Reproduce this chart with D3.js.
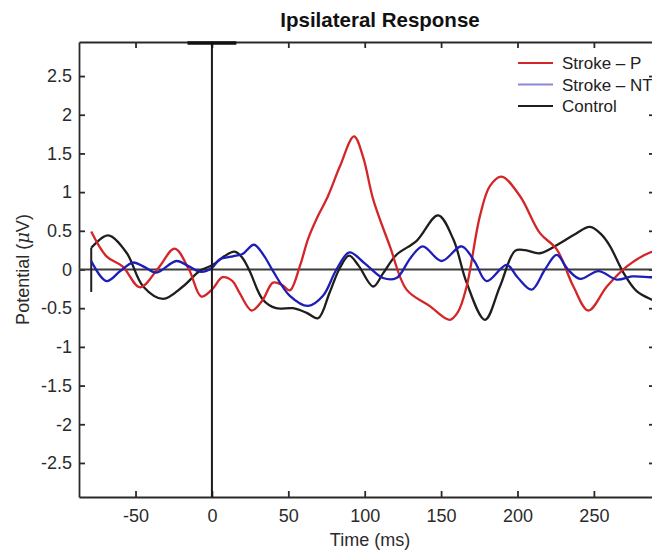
<!DOCTYPE html>
<html>
<head>
<meta charset="utf-8">
<script src="https://cdn.jsdelivr.net/npm/d3@7"></script>
<style>
  body { margin: 0; background: #fff; }
  svg { display: block; font-family: "Liberation Sans", Arial, sans-serif; }
</style>
</head>
<body>
<div id="chart"></div>
<script>
// DATA

// Stroke - P (red)
const strokePTime = [-79, -69, -58.5, -47, -35, -24.4, -15, -7, 0, 7, 13.5, 18, 26, 33, 40, 46, 51, 57.5, 63, 68.4, 76, 83.7, 93, 99, 105.5, 116.5, 127.4, 142.4, 155.5, 161, 166.7, 175.4, 182, 189.6, 201.6, 214.7, 225.7, 236.6, 246.4, 258.5, 271.6, 286.8, 292];
const strokePVals = [0.49, 0.17, 0.04, -0.23, 0.02, 0.27, 0.0, -0.35, -0.26, -0.1, -0.15, -0.3, -0.53, -0.4, -0.17, -0.2, -0.27, 0.04, 0.4, 0.65, 0.95, 1.33, 1.72, 1.45, 0.91, 0.3, -0.26, -0.47, -0.65, -0.55, -0.22, 0.69, 1.08, 1.2, 0.95, 0.47, 0.26, -0.22, -0.53, -0.22, 0.04, 0.22, 0.24];

// Stroke - NT (blue)
const strokeNTime = [-79, -69, -60, -51.7, -44, -36.4, -23.3, -15, -7, 0, 5, 13.8, 20, 27.5, 34, 40, 51, 63, 72.7, 81.5, 90, 100, 112, 120.8, 130, 138, 150.3, 163.4, 172, 179.8, 192.9, 200, 209.3, 218, 225.7, 233, 241, 253, 265, 275, 287, 292];
const strokeNVals = [0.11, -0.15, -0.02, 0.09, 0.03, -0.04, 0.11, 0.04, -0.03, 0.02, 0.13, 0.17, 0.2, 0.32, 0.18, -0.02, -0.34, -0.47, -0.34, 0.0, 0.22, 0.08, -0.11, -0.11, 0.15, 0.3, 0.11, 0.3, 0.1, -0.15, 0.06, -0.1, -0.26, 0.0, 0.19, 0.0, -0.12, -0.02, -0.13, -0.09, -0.1, -0.1];

// Control (black)
const controlTime = [-79, -68, -56, -45, -32, -19, -8, 0.7, 8, 14.9, 20, 24.7, 33.4, 42, 53, 62, 69.5, 77, 83.7, 89.8, 96, 105.5, 112, 120.8, 134, 148, 158, 166.7, 178.7, 188.5, 198.4, 205, 214.7, 227.8, 237, 247.5, 255, 260.6, 269.3, 278, 288, 292];
const controlVals = [0.28, 0.44, 0.22, -0.22, -0.38, -0.22, -0.02, 0.06, 0.17, 0.23, 0.15, -0.02, -0.39, -0.5, -0.5, -0.56, -0.63, -0.3, 0.02, 0.18, 0.05, -0.22, -0.05, 0.19, 0.37, 0.7, 0.39, -0.17, -0.65, -0.22, 0.24, 0.25, 0.21, 0.34, 0.45, 0.55, 0.45, 0.3, -0.04, -0.28, -0.39, -0.42];

// Short vertical bar at the start of the control trace
const startBarTime = -79;
const startBarRange = [0.28, -0.29];
// Stimulus marker on the top edge
const stimulusRange = [-16, 16];

const seriesNames = ["Stroke \u2013 P", "Stroke \u2013 NT", "Control"];
const seriesColors = ["#d42528", "#1d1db8", "#1e1e1e"];
const legendColors = ["#d42528", "#8a8ad8", "#1e1e1e"];

const xDomain = [-87, 290];
const yDomain = [-2.94, 2.94];
const xTicks = [-50, 0, 50, 100, 150, 200, 250];
const yTicks = [-2.5, -2, -1.5, -1, -0.5, 0, 0.5, 1, 1.5, 2, 2.5];

// LAYOUT
const width = 652, height = 552;
const margin = {top: 42, left: 79, bottom: 55};
const plotRight = 655; // right axis sits just past the picture edge

const svg = d3.select("#chart").append("svg")
  .attr("width", width)
  .attr("height", height);

const x = d3.scaleLinear().domain(xDomain).range([margin.left, plotRight]);
const y = d3.scaleLinear().domain(yDomain).range([height - margin.bottom, margin.top]);

svg.append("defs").append("clipPath").attr("id", "plot-clip")
  .append("rect")
  .attr("x", margin.left).attr("y", margin.top)
  .attr("width", plotRight - margin.left)
  .attr("height", y.range()[0] - margin.top);

const axisColor = "#2a2a2a";
const tickLen = 6;

// Axes (ticks point inward, like matlab)
function styleAxis(g) {
  g.select(".domain").attr("stroke", axisColor).attr("stroke-width", 1.8);
  g.selectAll(".tick line").attr("stroke", axisColor).attr("stroke-width", 1.8);
  g.selectAll(".tick text").attr("fill", "#2b2b2b").attr("font-size", 18);
}

svg.append("g")
  .attr("transform", `translate(0,${y.range()[0]})`)
  .call(d3.axisBottom(x).tickValues(xTicks).tickSizeInner(-tickLen).tickSizeOuter(0).tickPadding(12).tickFormat(d => String(d)))
  .call(styleAxis);

svg.append("g")
  .attr("transform", `translate(0,${margin.top})`)
  .call(d3.axisTop(x).tickValues(xTicks).tickSizeInner(-tickLen).tickSizeOuter(0).tickFormat(""))
  .call(styleAxis);

svg.append("g")
  .attr("transform", `translate(${margin.left},0)`)
  .call(d3.axisLeft(y).tickValues(yTicks).tickSizeInner(-tickLen).tickSizeOuter(0).tickPadding(7).tickFormat(d => String(d)))
  .call(styleAxis);

svg.append("g")
  .attr("transform", `translate(${plotRight},0)`)
  .call(d3.axisRight(y).tickValues(yTicks).tickSizeInner(-tickLen).tickSizeOuter(0).tickFormat(""))
  .call(styleAxis);

const plot = svg.append("g").attr("clip-path", "url(#plot-clip)");

// zero line
plot.append("line")
  .attr("x1", x(xDomain[0])).attr("x2", x(xDomain[1]))
  .attr("y1", y(0)).attr("y2", y(0))
  .attr("stroke", "#3c3c3c").attr("stroke-width", 2);

// onset line
svg.append("line")
  .attr("x1", x(0)).attr("x2", x(0))
  .attr("y1", y(yDomain[1])).attr("y2", y(yDomain[0]))
  .attr("stroke", "#1a1a1a").attr("stroke-width", 2);

// stimulus marker
svg.append("line")
  .attr("x1", x(stimulusRange[0])).attr("x2", x(stimulusRange[1]))
  .attr("y1", y(yDomain[1]) + 1).attr("y2", y(yDomain[1]) + 1)
  .attr("stroke", "#111").attr("stroke-width", 3.5);

// start bar
plot.append("line")
  .attr("x1", x(startBarTime)).attr("x2", x(startBarTime))
  .attr("y1", y(startBarRange[0])).attr("y2", y(startBarRange[1]))
  .attr("stroke", "#1e1e1e").attr("stroke-width", 2);

const line = d3.line()
  .x(d => x(d[0]))
  .y(d => y(d[1]))
  .curve(d3.curveCatmullRom.alpha(0.5));

const series = [
  d3.zip(strokePTime, strokePVals),
  d3.zip(strokeNTime, strokeNVals),
  d3.zip(controlTime, controlVals)
];

// draw black first, then red, then blue on top
[2, 0, 1].forEach(i => {
  plot.append("path")
    .datum(series[i])
    .attr("fill", "none")
    .attr("stroke", seriesColors[i])
    .attr("stroke-width", 2.3)
    .attr("stroke-linejoin", "round")
    .attr("d", line);
});

// Title and labels
svg.append("text")
  .attr("x", 380).attr("y", 27)
  .attr("text-anchor", "middle")
  .attr("font-size", 20.5).attr("font-weight", "bold").attr("fill", "#111")
  .text("Ipsilateral Response");

svg.append("text")
  .attr("x", 370).attr("y", 546)
  .attr("text-anchor", "middle")
  .attr("font-size", 18).attr("fill", "#2b2b2b")
  .text("Time (ms)");

const yLabel = svg.append("text")
  .attr("transform", `translate(29,${y(0)}) rotate(-90)`)
  .attr("text-anchor", "middle")
  .attr("font-size", 18).attr("fill", "#2b2b2b");
yLabel.append("tspan").text("Potential (");
yLabel.append("tspan").attr("font-style", "italic").attr("font-family", "'DejaVu Serif', serif").text("\u03bc");
yLabel.append("tspan").text("V)");

// Legend (no box)
const legend = svg.append("g");
seriesNames.forEach((name, i) => {
  const ly = 63 + i * 21.5;
  legend.append("line")
    .attr("x1", 518).attr("x2", 553)
    .attr("y1", ly).attr("y2", ly)
    .attr("stroke", legendColors[i]).attr("stroke-width", 1.8);
  legend.append("text")
    .attr("x", 562).attr("y", ly + 6)
    .attr("font-size", 17).attr("fill", "#222")
    .text(name);
});
</script>
</body>
</html>
